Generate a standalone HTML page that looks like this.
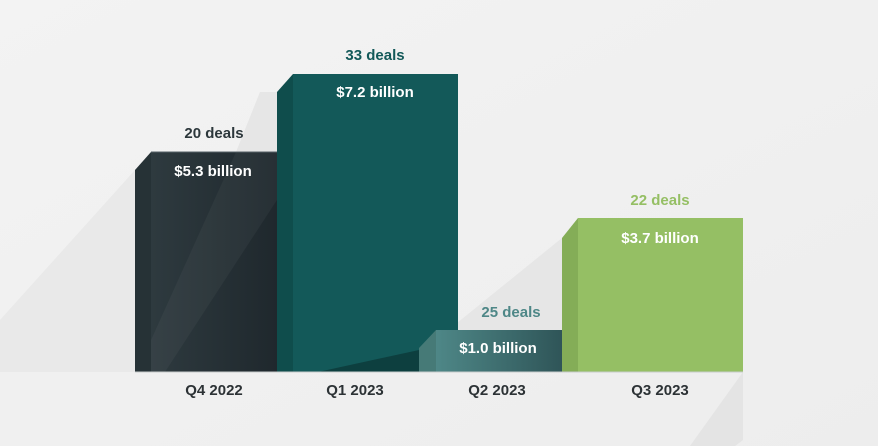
<!DOCTYPE html>
<html><head><meta charset="utf-8"><style>
html,body{margin:0;padding:0;width:878px;height:446px;overflow:hidden}
text{font-family:"Liberation Sans",sans-serif;font-weight:bold;font-size:15px;text-anchor:middle}
</style></head><body>
<svg width="878" height="446" viewBox="0 0 878 446" xmlns="http://www.w3.org/2000/svg">
<defs>
<linearGradient id="bg" x1="0" y1="0" x2="1" y2="1"><stop offset="0" stop-color="#f3f3f3"/><stop offset="1" stop-color="#ededed"/></linearGradient>
<linearGradient id="q4" x1="0" x2="1"><stop offset="0" stop-color="#2e3a3f"/><stop offset="1" stop-color="#1f282d"/></linearGradient>
<linearGradient id="q2" x1="0" x2="1"><stop offset="0" stop-color="#4e8787"/><stop offset="1" stop-color="#2f5558"/></linearGradient>
</defs>
<rect width="878" height="446" fill="url(#bg)"/>
<polygon points="135,170 0,320 0,372 135,372" fill="#e9e9e9"/>
<polygon points="277,92 260,92 236,152 277,152" fill="#e6e6e6"/>
<polygon points="562,238 436,340 436,372 562,372" fill="#e6e6e6"/>
<polygon points="743,372 690,446 735,446 743,440" fill="#e4e4e4"/>
<polygon points="135,170 151,152 151,372 135,372" fill="#263236"/>
<rect x="151" y="152" width="126" height="220" fill="url(#q4)"/>
<polygon points="236,152 277,152 277,200 165,372 151,372 151,340" fill="#ffffff" opacity="0.04"/>
<line x1="151" y1="152" x2="277" y2="152" stroke="#556066" stroke-width="1"/>
<polygon points="277,92 293,74 293,372 277,372" fill="#0f4d4c"/>
<rect x="293" y="74" width="165" height="298" fill="#135959"/>
<polygon points="318,372 419,350 419,372" fill="#0d3f3f"/>
<polygon points="419,348 436,330 436,372 419,372" fill="#467a77"/>
<rect x="436" y="330" width="126" height="42" fill="url(#q2)"/>
<polygon points="562,238 578,218 578,372 562,372" fill="#84ad57"/>
<rect x="578" y="218" width="165" height="154" fill="#95bf64"/>
<line x1="135" y1="372" x2="743" y2="372" stroke="#c8cccc" stroke-width="1"/>
<text x="214" y="138" fill="#2c373b">20 deals</text>
<text x="213" y="176" fill="#ffffff">$5.3 billion</text>
<text x="375" y="60" fill="#135959">33 deals</text>
<text x="375" y="97" fill="#ffffff">$7.2 billion</text>
<text x="511" y="317" fill="#4e8787">25 deals</text>
<text x="498" y="353" fill="#ffffff">$1.0 billion</text>
<text x="660" y="205" fill="#95bf64">22 deals</text>
<text x="660" y="243" fill="#ffffff">$3.7 billion</text>
<text x="214" y="395" fill="#2c3235">Q4 2022</text>
<text x="355" y="395" fill="#2c3235">Q1 2023</text>
<text x="497" y="395" fill="#2c3235">Q2 2023</text>
<text x="660" y="395" fill="#2c3235">Q3 2023</text>
</svg>
</body></html>
